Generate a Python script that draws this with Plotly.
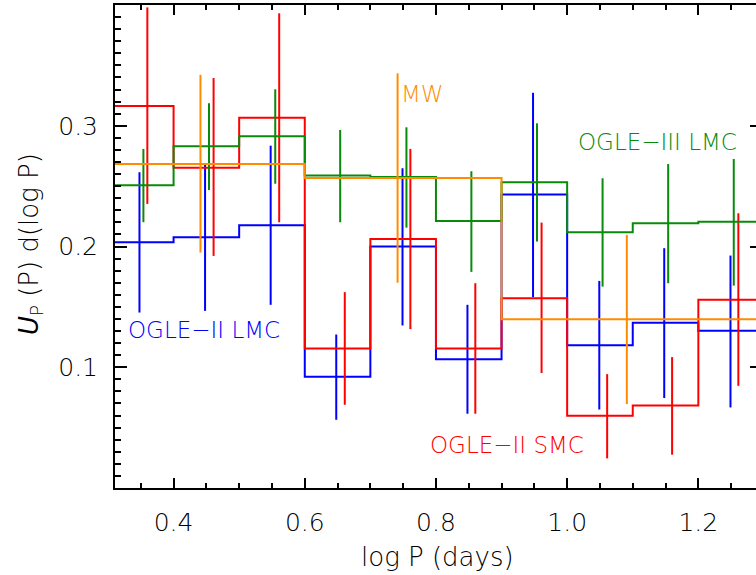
import plotly.graph_objects as go

# ---- data ----
edges = [0.3, 0.4, 0.5, 0.6, 0.7, 0.8, 0.9, 1.0, 1.1, 1.2, 1.3]
blue_vals = [0.2036, 0.2077, 0.2176, 0.0921, 0.1999, 0.1067, 0.2430, 0.1183, 0.1368, 0.1302]
red_vals = [0.3163, 0.2653, 0.3067, 0.1155, 0.2063, 0.1155, 0.1572, 0.0598, 0.0684, 0.1558]
green_vals = [0.2507, 0.2830, 0.2913, 0.2587, 0.2575, 0.2212, 0.2532, 0.2118, 0.2193, 0.2204]
mw_edges = [0.3, 0.6, 0.9, 1.3]
mw_vals = [0.2683, 0.2568, 0.1398]

blue_ex = [0.348, 0.448, 0.548, 0.648, 0.749, 0.848, 0.948, 1.049, 1.148, 1.249]
blue_hi = [0.2615, 0.2678, 0.2835, 0.1271, 0.2648, 0.1517, 0.3273, 0.1715, 0.1986, 0.1925]
blue_lo = [0.1453, 0.1467, 0.1517, 0.0565, 0.1346, 0.0615, 0.1580, 0.0650, 0.0745, 0.0667]

green_ex = [0.354, 0.454, 0.555, 0.654, 0.755, 0.854, 0.954, 1.054, 1.154, 1.254]
green_hi = [0.2808, 0.3186, 0.3302, 0.2965, 0.2987, 0.2623, 0.3020, 0.2565, 0.2683, 0.2725]
green_lo = [0.2201, 0.2468, 0.2520, 0.2201, 0.2156, 0.1790, 0.2041, 0.1668, 0.1696, 0.1676]

red_ex = [0.360, 0.461, 0.561, 0.661, 0.761, 0.860, 0.961, 1.061, 1.160, 1.261]
red_hi = [0.3980, 0.3395, 0.3931, 0.1622, 0.2808, 0.1696, 0.2198, 0.0943, 0.1084, 0.2275]
red_lo = [0.2353, 0.1922, 0.2201, 0.0689, 0.1316, 0.0615, 0.0952, 0.0245, 0.0276, 0.0846]

mw_ex = [0.441, 0.7415, 1.091]
mw_hi = [0.3422, 0.3434, 0.2097]
mw_lo = [0.1950, 0.1700, 0.0695]

x_ticks = [0.4, 0.6, 0.8, 1.0, 1.2]
x_ticktext = ["0.4", "0.6", "0.8", "1.0", "1.2"]
y_ticks = [0.1, 0.2, 0.3]
y_ticktext = ["0.1", "0.2", "0.3"]

BLUE = "#0000ff"
RED = "#ff0000"
GREEN = "#0a8a0a"
ORANGE = "#ff8c00"
FONT = "DejaVu Sans"

fig = go.Figure()


def add_series(edg, vals, ex, hi, lo, color):
    fig.add_trace(go.Scatter(
        x=edg, y=list(vals) + [vals[-1]], mode="lines",
        line=dict(color=color, width=2, shape="hv"),
        showlegend=False, hoverinfo="skip"))
    fig.add_trace(go.Scatter(
        x=ex, y=list(vals), mode="markers",
        marker=dict(size=1, color="rgba(0,0,0,0)"),
        error_y=dict(type="data", symmetric=False,
                     array=[h - v for h, v in zip(hi, vals)],
                     arrayminus=[v - l for l, v in zip(lo, vals)],
                     width=0, thickness=2, color=color),
        showlegend=False, hoverinfo="skip"))


add_series(edges, blue_vals, blue_ex, blue_hi, blue_lo, BLUE)
add_series(edges, red_vals, red_ex, red_hi, red_lo, RED)
add_series(edges, green_vals, green_ex, green_hi, green_lo, GREEN)
add_series(mw_edges, mw_vals, mw_ex, mw_hi, mw_lo, ORANGE)

# invisible trace to carry right-side tick stubs
fig.add_trace(go.Scatter(x=[0.5], y=[0.2], yaxis="y2", mode="markers",
                         marker=dict(size=1, color="rgba(0,0,0,0)"),
                         showlegend=False, hoverinfo="skip"))

labels = [
    ("MW", 0.779, 0.326, ORANGE),
    ("OGLE\u2212III LMC", 1.138, 0.2865, GREEN),
    ("OGLE\u2212II LMC", 0.447, 0.131, BLUE),
    ("OGLE\u2212II SMC", 0.908, 0.0359, RED),
]
for txt, lx, ly, col in labels:
    fig.add_annotation(x=lx, y=ly, text=txt, showarrow=False,
                       font=dict(family=FONT, size=23, color=col, weight=200),
                       xanchor="center", yanchor="middle")

fig.add_annotation(xref="paper", yref="paper", x=0.503, y=-0.143,
                   text="log P (days)", showarrow=False,
                   font=dict(family=FONT, size=26, color="black", weight=200),
                   xanchor="center", yanchor="middle")
fig.add_annotation(xref="paper", yref="paper", x=-0.1326, y=0.505,
                   text="<i>U</i><sub>P</sub> (P) d(log P)", textangle=-90,
                   showarrow=False,
                   font=dict(family=FONT, size=26, color="black", weight=200),
                   xanchor="center", yanchor="middle")

fig.update_layout(
    width=756, height=575,
    margin=dict(l=115, r=0, t=5, b=87),
    paper_bgcolor="white", plot_bgcolor="white",
    font=dict(family=FONT, size=25, color="black", weight=200),
    xaxis=dict(range=[0.3107, 1.2879], tickvals=x_ticks, ticktext=x_ticktext,
               ticks="inside", ticklen=10, tickwidth=1.5, tickcolor="black",
               minor=dict(tick0=0, dtick=0.05, ticks="inside", ticklen=5,
                          tickwidth=1.5, tickcolor="black", showgrid=False),
               showline=True, linecolor="black", linewidth=2, mirror="ticks",
               showgrid=False, zeroline=False, ticklabelstandoff=11,
               tickfont=dict(size=25, color="black")),
    yaxis=dict(range=[0, 0.4], tickvals=y_ticks, ticktext=y_ticktext,
               ticks="inside", ticklen=12, tickwidth=1.5, tickcolor="black",
               minor=dict(tick0=0, dtick=0.01, ticks="inside", ticklen=6,
                          tickwidth=1.5, tickcolor="black", showgrid=False),
               showline=True, linecolor="black", linewidth=2, mirror=False,
               showgrid=False, zeroline=False, ticklabelstandoff=10,
               tickfont=dict(size=25, color="black")),
    yaxis2=dict(range=[0, 0.4], overlaying="y", side="right",
                tickvals=y_ticks, ticks="inside", ticklen=6, tickwidth=1.5,
                tickcolor="black", showticklabels=False, showline=False,
                showgrid=False, zeroline=False),
)

fig.write_html("out.html")
